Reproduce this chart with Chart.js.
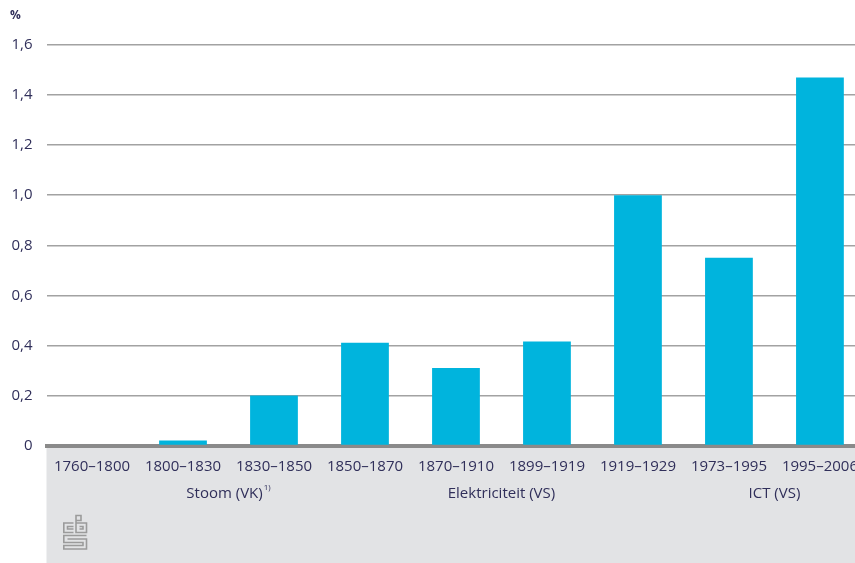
<!DOCTYPE html>
<html>
<head>
<meta charset="utf-8">
<script src="https://cdn.jsdelivr.net/npm/chart.js@4"></script>
<style>
  html, body { margin: 0; padding: 0; background: #fff; overflow: hidden; }
  #wrap { position: relative; width: 870px; height: 563px; }
</style>
</head>
<body>
<div id="wrap"><canvas id="c"></canvas></div>
<script>
// Periods and average annual contribution to labour productivity growth (%)
const periods = ['1760–1800', '1800–1830', '1830–1850', '1850–1870', '1870–1910',
                 '1899–1919', '1919–1929', '1973–1995', '1995–2006'];
const growth = [0, 0.02, 0.2, 0.41, 0.31, 0.415, 1.0, 0.75, 1.47];
const yTicks = [0, 0.2, 0.4, 0.6, 0.8, 1.0, 1.2, 1.4, 1.6];

// Technology groups spanning several periods
const groupNames = ['Stoom (VK)', 'Elektriciteit (VS)', 'ICT (VS)'];
const groupNotes = ['1)', '', ''];
const groupFirst = [0, 4, 7];
const groupLast = [3, 5, 8];

const textColor = '#302f5a';
const fontFamily = '"Open Sans", "DejaVu Sans", sans-serif';

const decorations = {
  id: 'decorations',
  beforeDraw(chart) {
    const { ctx, chartArea } = chart;
    ctx.save();
    // grey band beneath the axis
    ctx.fillStyle = '#e2e3e5';
    ctx.fillRect(chartArea.left, chartArea.bottom, chart.width - chartArea.left, chart.height - chartArea.bottom);
    ctx.restore();
  },
  afterDraw(chart) {
    const { ctx } = chart;
    const x = chart.scales.x;
    ctx.save();
    ctx.fillStyle = textColor;
    ctx.textBaseline = 'middle';
    // unit label
    ctx.font = 'bold 12px ' + fontFamily;
    ctx.textAlign = 'left';
    ctx.fillText('%', 10, 16);
    // group labels
    groupNames.forEach((name, i) => {
      const cx = (x.getPixelForValue(groupFirst[i]) + x.getPixelForValue(groupLast[i])) / 2;
      ctx.font = '15px ' + fontFamily;
      const w = ctx.measureText(name).width;
      ctx.font = '8px ' + fontFamily;
      const nw = groupNotes[i] ? ctx.measureText(groupNotes[i]).width + 1 : 0;
      const start = cx - (w + nw) / 2;
      ctx.font = '15px ' + fontFamily;
      ctx.fillText(name, start, 494);
      if (groupNotes[i]) {
        ctx.font = '8px ' + fontFamily;
        ctx.fillText(groupNotes[i], start + w + 1, 488);
      }
    });
    // logo
    ctx.strokeStyle = '#9b9b9b';
    ctx.lineWidth = 1.6;
    const L = 63, T = 515;
    ctx.beginPath();
    // small top square
    ctx.rect(L + 13, T + 0.5, 5, 5);
    // "c"
    ctx.moveTo(L + 10.5, T + 8); ctx.lineTo(L + 0.8, T + 8); ctx.lineTo(L + 0.8, T + 17.5); ctx.lineTo(L + 10.5, T + 17.5);
    ctx.moveTo(L + 10.5, T + 11.5); ctx.lineTo(L + 4.5, T + 11.5); ctx.lineTo(L + 4.5, T + 14); ctx.lineTo(L + 10.5, T + 14);
    // "b"
    ctx.moveTo(L + 13, T + 5.5); ctx.lineTo(L + 13, T + 17.5); ctx.lineTo(L + 23.5, T + 17.5); ctx.lineTo(L + 23.5, T + 8); ctx.lineTo(L + 13, T + 8);
    ctx.moveTo(L + 16.5, T + 11.5); ctx.lineTo(L + 20, T + 11.5); ctx.lineTo(L + 20, T + 14); ctx.lineTo(L + 16.5, T + 14);
    // "s"
    ctx.moveTo(L + 23.5, T + 20.5); ctx.lineTo(L + 0.8, T + 20.5); ctx.lineTo(L + 0.8, T + 27.5); ctx.lineTo(L + 20, T + 27.5);
    ctx.lineTo(L + 20, T + 30.5); ctx.lineTo(L + 0.8, T + 30.5); ctx.lineTo(L + 0.8, T + 34); ctx.lineTo(L + 23.5, T + 34);
    ctx.lineTo(L + 23.5, T + 24); ctx.lineTo(L + 4.5, T + 24);
    ctx.stroke();
    ctx.restore();
  }
};

new Chart(document.getElementById('c'), {
  type: 'bar',
  data: {
    labels: periods,
    datasets: [{
      data: growth,
      backgroundColor: '#00b4dd',
      borderWidth: 0,
      barPercentage: 0.525,
      categoryPercentage: 1.0
    }]
  },
  options: {
    responsive: true,
    maintainAspectRatio: false,
    animation: false,
    layout: { padding: { top: 45, right: 0, left: 0, bottom: 0 } },
    plugins: { legend: { display: false }, tooltip: { enabled: false } },
    scales: {
      x: {
        grid: { display: false, drawTicks: false },
        border: { display: true, color: '#8a8a8a', width: 4 },
        ticks: {
          color: textColor,
          font: { family: fontFamily, size: 15 },
          padding: 12,
          maxRotation: 0,
          autoSkip: false
        },
        afterFit(scale) { scale.height = 117.5; }
      },
      y: {
        min: 0,
        max: 1.6,
        afterBuildTicks(scale) { scale.ticks = yTicks.map(v => ({ value: v })); },
        grid: {
          drawTicks: false,
          color: ctx => ctx.tick && ctx.tick.value === 0 ? 'rgba(0,0,0,0)' : '#a2a2a2',
          lineWidth: 1.5
        },
        border: { display: false },
        ticks: {
          color: textColor,
          font: { family: fontFamily, size: 15 },
          padding: 14,
          callback: v => v === 0 ? '0' : v.toFixed(1).replace('.', ',')
        },
        afterFit(scale) { scale.width = 46.5; }
      }
    }
  },
  plugins: [decorations]
});
</script>
</body>
</html>
